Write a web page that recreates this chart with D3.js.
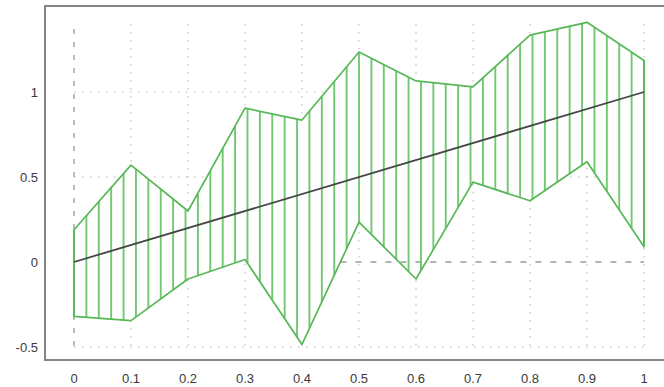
<!DOCTYPE html>
<html><head><meta charset="utf-8">
<script src="https://cdn.jsdelivr.net/npm/d3@7"></script>
<style>html,body{margin:0;padding:0;background:#fff;}svg{display:block;}</style>
</head><body>
<svg id="c" width="664" height="387"></svg>
<script>
const xs = [0, 0.1, 0.2, 0.3, 0.4, 0.5, 0.6, 0.7, 0.8, 0.9, 1.0];
const upper = [0.19, 0.57, 0.30, 0.905, 0.835, 1.235, 1.065, 1.03, 1.335, 1.41, 1.185];
const lower = [-0.32, -0.345, -0.10, 0.015, -0.485, 0.235, -0.10, 0.47, 0.36, 0.59, 0.09];
const midLine = [[0, 0], [1, 1]];
const xTicks = [0, 0.1, 0.2, 0.3, 0.4, 0.5, 0.6, 0.7, 0.8, 0.9, 1];
const xTickLabels = ["0", "0.1", "0.2", "0.3", "0.4", "0.5", "0.6", "0.7", "0.8", "0.9", "1"];
const yTicks = [-0.5, 0, 0.5, 1];
const yTickLabels = ["-0.5", "0", "0.5", "1"];
const hatchCount = 46;

const svg = d3.select("#c");
const x = d3.scaleLinear().domain([0, 1]).range([74, 644]);
const y = d3.scaleLinear().domain([-0.5, 1.4]).range([347, 24]);

const interp = (arr, v) => {
  const i = Math.min(xs.length - 2, Math.floor(v * 10 + 1e-9));
  const t = (v - xs[i]) / (xs[i + 1] - xs[i]);
  return arr[i] + t * (arr[i + 1] - arr[i]);
};

// frame
svg.append("rect").attr("x", 45).attr("y", 6).attr("width", 640).attr("height", 354)
  .attr("fill", "none").attr("stroke", "#858585").attr("stroke-width", 2);

const grid = svg.append("g");
xTicks.slice(1).forEach(t => {
  grid.append("line").attr("x1", x(t)).attr("x2", x(t)).attr("y1", y(1.4)).attr("y2", y(-0.5))
    .attr("stroke", "#b5b5b5").attr("stroke-width", 1).attr("stroke-dasharray", "1.5,6.5");
});
yTicks.filter(t => t !== 0).forEach(t => {
  grid.append("line").attr("x1", x(0)).attr("x2", x(1)).attr("y1", y(t)).attr("y2", y(t))
    .attr("stroke", "#b5b5b5").attr("stroke-width", 1).attr("stroke-dasharray", "1.5,6.5");
});
grid.append("line").attr("x1", x(0)).attr("x2", x(0)).attr("y1", y(1.37)).attr("y2", y(-0.5))
  .attr("stroke", "#9a9a9a").attr("stroke-width", 1.3).attr("stroke-dasharray", "5,8");

const poly = xs.map((v, i) => [x(v), y(upper[i])]).concat(xs.slice().reverse().map((v, j) => [x(v), y(lower[xs.length - 1 - j])]));
svg.append("path").attr("d", d3.line()(poly) + "Z").attr("fill", "#fff").attr("stroke", "none");

const zeroStart = 0.4 + 0.485 / (0.485 + 0.235) * 0.1;
svg.append("line").attr("x1", x(zeroStart)).attr("x2", x(1)).attr("y1", y(0)).attr("y2", y(0))
  .attr("stroke", "#9a9a9a").attr("stroke-width", 1.3).attr("stroke-dasharray", "6,9");

const hatch = svg.append("g");
d3.range(hatchCount + 1).forEach(k => {
  const v = k / hatchCount;
  hatch.append("line").attr("x1", x(v)).attr("x2", x(v))
    .attr("y1", y(interp(upper, v))).attr("y2", y(interp(lower, v)))
    .attr("stroke", "#72c872").attr("stroke-width", 1.9);
});
svg.append("path").attr("d", d3.line()(poly) + "Z").attr("fill", "none")
  .attr("stroke", "#58b858").attr("stroke-width", 1.7).attr("stroke-linejoin", "round");

svg.append("path").attr("d", d3.line().x(d => x(d[0])).y(d => y(d[1]))(midLine))
  .attr("stroke", "#454545").attr("stroke-width", 1.8).attr("fill", "none");

const lab = svg.append("g").attr("font-family", "Liberation Sans, Arial, sans-serif").attr("font-size", 13).attr("fill", "#3a3a3a");
xTicks.forEach((t, i) => {
  lab.append("text").attr("x", x(t)).attr("y", 383).attr("text-anchor", "middle").text(xTickLabels[i]);
});
yTicks.forEach((t, i) => {
  lab.append("text").attr("x", 38).attr("y", y(t) + 5).attr("text-anchor", "end").text(yTickLabels[i]);
});
</script>
</body></html>
